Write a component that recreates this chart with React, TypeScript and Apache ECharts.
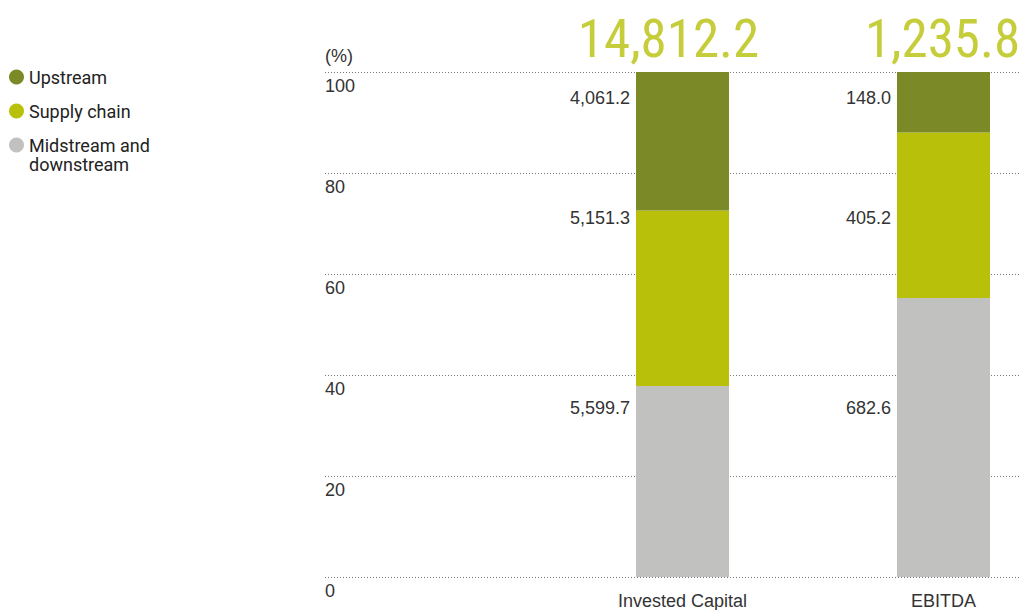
import React, { useEffect, useRef } from "react";
import * as echarts from "echarts";

// ---- data ----
const categories = ["Invested Capital", "EBITDA"];
const upstream = [4061.2, 148.0];
const supplyChain = [5151.3, 405.2];
const midstream = [5599.7, 682.6];
const totals = [14812.2, 1235.8];
const yTicks = [0, 20, 40, 60, 80, 100];

// ---- styles / layout ----
const COLORS = {
  upstream: "#7b8a27",
  supply: "#b8c00a",
  midstream: "#c1c1bf",
  text: "#333333",
  total: "#b8c00a",
  grid: "#777777",
};
const PLOT_TOP = 72;
const PLOT_BOTTOM = 33;
const PLOT_H = 610 - PLOT_TOP - PLOT_BOTTOM;
// vertical anchors (in % of axis) where the value labels sit
const LABEL_ANCHOR = { upstream: 94.85, supply: 71.0, midstream: 33.4 };
const TOTAL_OFFSET_X = [-14, -1];

const fmt = (v: number) =>
  v.toLocaleString("en-US", { minimumFractionDigits: 1, maximumFractionDigits: 1 });

const sums = categories.map((_, i) => upstream[i] + supplyChain[i] + midstream[i]);
const pct = (arr: number[]) => arr.map((v, i) => (v / sums[i]) * 100);

function buildSeriesData(values: number[], below: number[][], anchor: number) {
  const p = pct(values);
  return p.map((v, i) => {
    const base = below.reduce((acc, arr) => acc + pct(arr)[i], 0);
    const top = base + v;
    const off = ((top - anchor) * PLOT_H) / 100;
    return {
      value: v,
      label: {
        show: true,
        position: [-6, off],
        align: "right",
        verticalAlign: "middle",
        formatter: () => fmt(values[i]),
      },
    };
  });
}

const fontArial = "'Liberation Sans', Arial, sans-serif";
const fontLegend = "Roboto, 'Noto Sans', sans-serif";

export default function App() {
  const ref = useRef<HTMLDivElement>(null);
  useEffect(() => {
    document.body.style.margin = "0";
    if (!ref.current) return;
    const chart = echarts.init(ref.current, null, { renderer: "svg" });
    const labelText = { fontFamily: fontArial, fontSize: 18, color: COLORS.text };
    const legendBase = {
      orient: "vertical",
      left: 9,
      padding: 0,
      icon: "circle",
      itemWidth: 15,
      itemHeight: 15,
      itemGap: 0,
      textStyle: {
        fontFamily: fontLegend,
        fontSize: 18,
        color: "#222",
        lineHeight: 19,
      },
    };
    chart.setOption({
      animation: false,
      color: [COLORS.midstream, COLORS.supply, COLORS.upstream],
      legend: [
        { ...legendBase, data: ["Upstream"], top: 67.5 },
        { ...legendBase, data: ["Supply chain"], top: 101.5 },
        {
          ...legendBase,
          data: ["Midstream and downstream"],
          top: 116.5,
          formatter: () => " \nMidstream and\ndownstream",
        },
      ],
      grid: [
        { left: 325, right: 0, top: PLOT_TOP, bottom: PLOT_BOTTOM },
        { left: 682.5, right: 75.5, top: PLOT_TOP, bottom: PLOT_BOTTOM },
      ],
      xAxis: [
        { type: "value", gridIndex: 0, show: false, min: 0, max: 1 },
        {
          type: "category",
          gridIndex: 1,
          data: categories,
          boundaryGap: false,
          axisLine: { show: false },
          axisTick: { show: false },
          splitLine: { show: false },
          axisLabel: { ...labelText, margin: 15 },
        },
      ],
      yAxis: [
        {
          type: "value",
          gridIndex: 0,
          min: yTicks[0],
          max: yTicks[yTicks.length - 1],
          interval: yTicks[1] - yTicks[0],
          name: "(%)",
          nameLocation: "end",
          nameGap: 16,
          nameTextStyle: { ...labelText, align: "left", verticalAlign: "middle", padding: 0 },
          axisLine: { show: false },
          axisTick: { show: false },
          axisLabel: {
            inside: true,
            margin: 0,
            align: "left",
            verticalAlign: "top",
            lineHeight: 18,
            padding: [5, 0, 0, 0],
            ...labelText,
          },
          splitLine: { show: true, lineStyle: { type: [1, 2], color: COLORS.grid, width: 1 } },
        },
        { type: "value", gridIndex: 1, min: 0, max: 100, show: false },
      ],
      series: [
        {
          name: "Midstream and downstream",
          type: "bar",
          xAxisIndex: 1,
          yAxisIndex: 1,
          stack: "total",
          barWidth: 93,
          clip: false,
          itemStyle: { color: COLORS.midstream },
          label: labelText,
          data: buildSeriesData(midstream, [], LABEL_ANCHOR.midstream),
        },
        {
          name: "Supply chain",
          type: "bar",
          xAxisIndex: 1,
          yAxisIndex: 1,
          stack: "total",
          barWidth: 93,
          clip: false,
          itemStyle: { color: COLORS.supply },
          label: labelText,
          data: buildSeriesData(supplyChain, [midstream], LABEL_ANCHOR.supply),
        },
        {
          name: "Upstream",
          type: "bar",
          xAxisIndex: 1,
          yAxisIndex: 1,
          stack: "total",
          barWidth: 93,
          clip: false,
          itemStyle: { color: COLORS.upstream },
          label: labelText,
          data: buildSeriesData(upstream, [midstream, supplyChain], LABEL_ANCHOR.upstream),
        },
        {
          name: "Total",
          type: "scatter",
          xAxisIndex: 1,
          yAxisIndex: 1,
          silent: true,
          clip: false,
          symbolSize: 1,
          itemStyle: { color: "rgba(0,0,0,0)" },
          data: categories.map((c, i) => ({
            value: [c, 100],
            label: {
              show: true,
              position: "top",
              distance: 6,
              offset: [TOTAL_OFFSET_X[i], 0],
              formatter: () => fmt(totals[i]),
              fontFamily: "'Liberation Sans Narrow', 'Roboto Condensed', 'DejaVu Sans Condensed', sans-serif",
              fontSize: 53,
              lineHeight: 54,
              color: COLORS.total,
            },
          })),
        },
      ],
    });
    return () => chart.dispose();
  }, []);
  return <div ref={ref} style={{ width: 1019, height: 610 }} />;
}
